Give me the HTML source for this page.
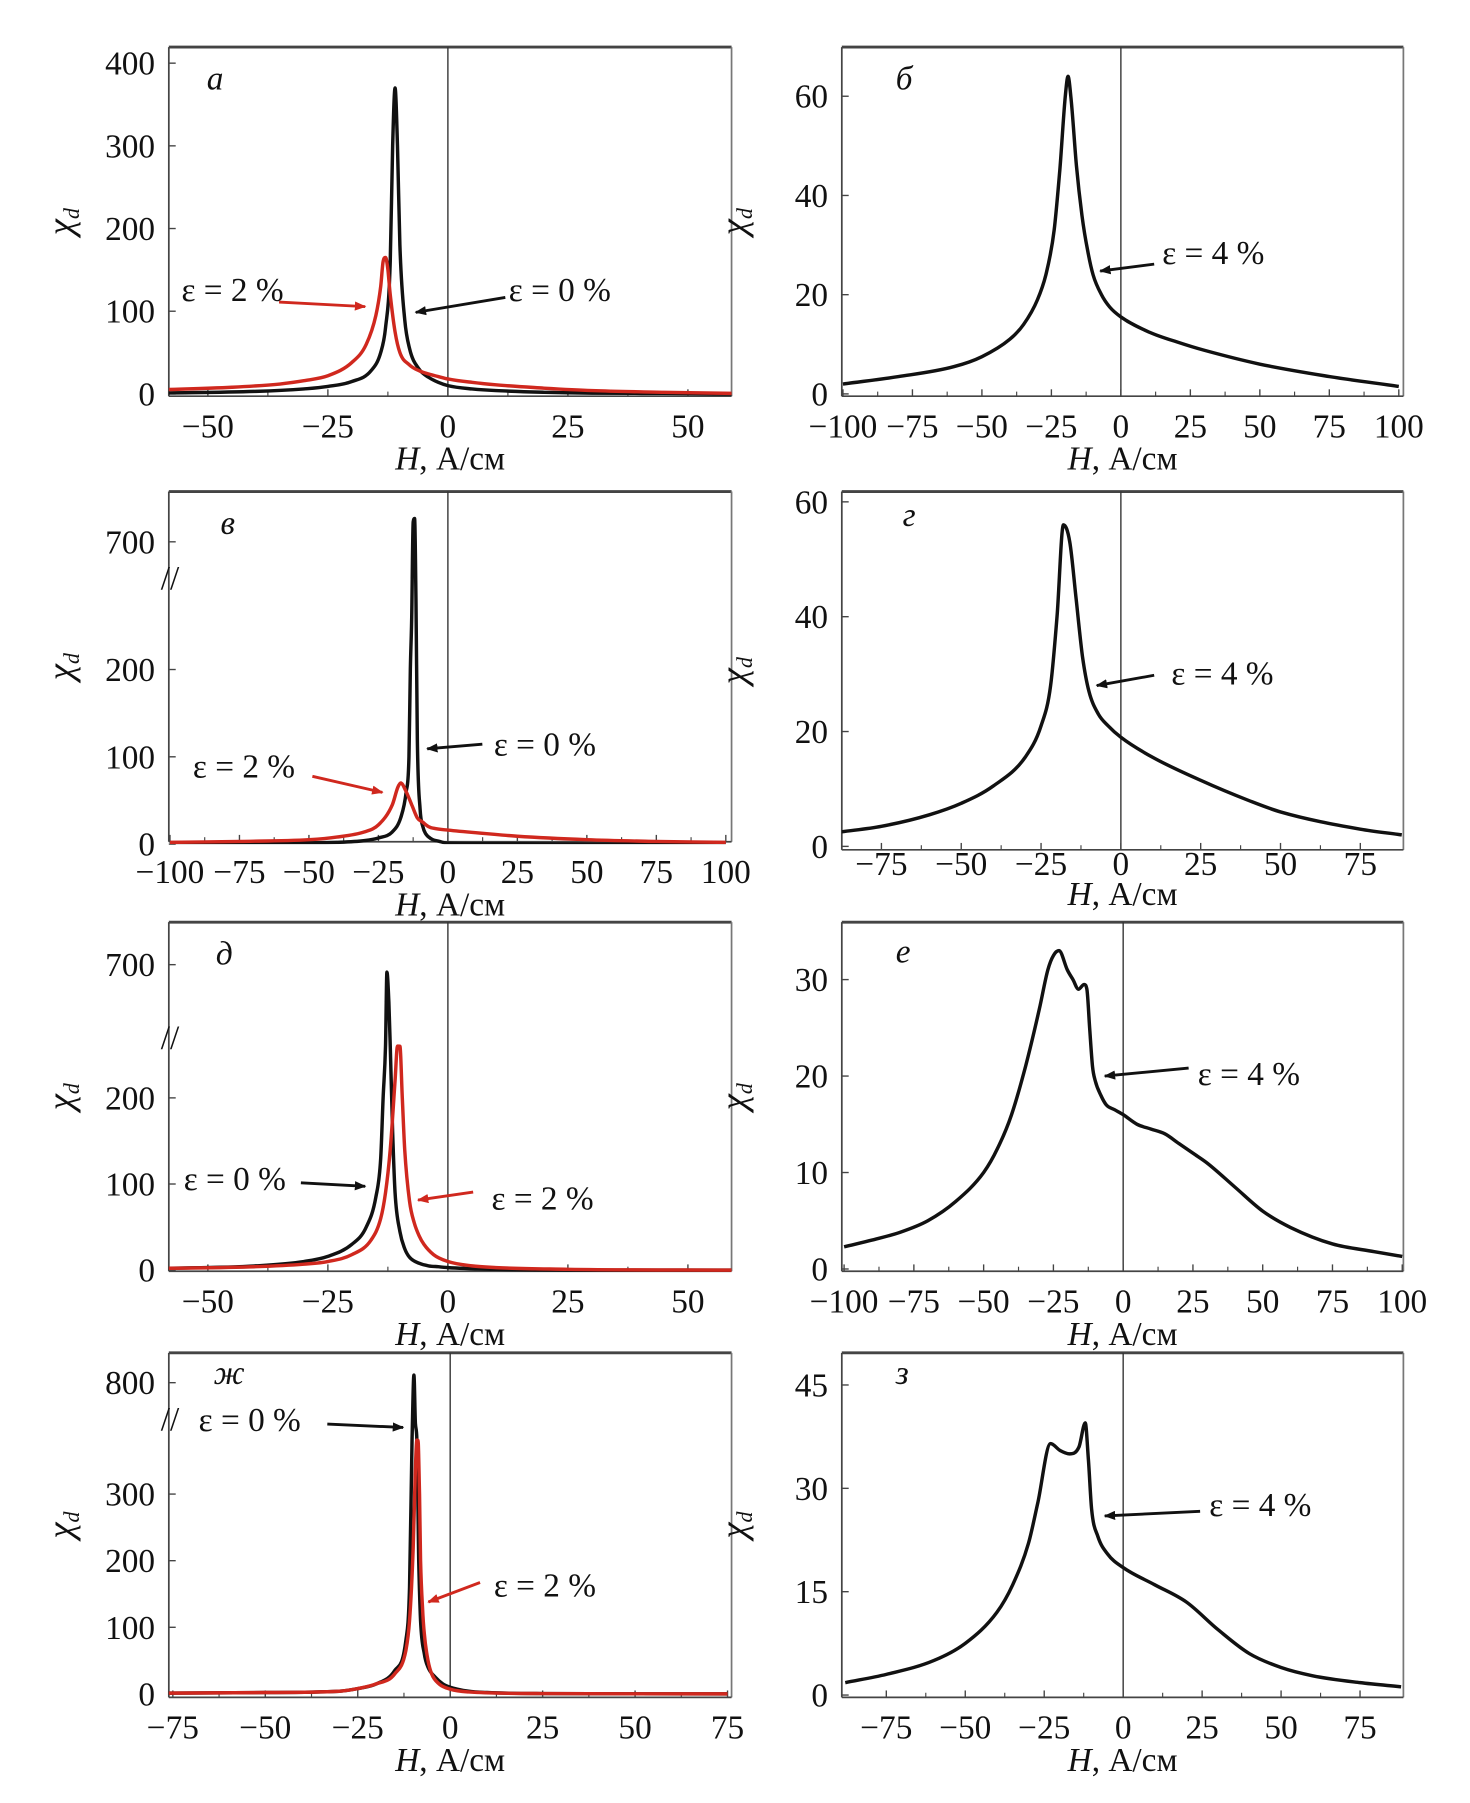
<!DOCTYPE html>
<html><head><meta charset="utf-8">
<style>
html,body{margin:0;padding:0;background:#fff;}
svg{display:block;}
text{font-family:"Liberation Serif",serif;fill:#111;}
.tick{font-size:29px;}
.lab{font-size:29px;}
.ann{font-size:29px;}
</style></head>
<body>
<svg id="fig" width="1470" height="1803" viewBox="0 0 1280 1570" preserveAspectRatio="none" xmlns="http://www.w3.org/2000/svg">
<defs>
<marker id="ahK" markerWidth="10" markerHeight="8" refX="9" refY="4" orient="auto" markerUnits="userSpaceOnUse"><path d="M0,0 L10,4 L0,8 Z" fill="#111"/></marker>
<marker id="ahR" markerWidth="10" markerHeight="8" refX="9" refY="4" orient="auto" markerUnits="userSpaceOnUse"><path d="M0,0 L10,4 L0,8 Z" fill="#d0281e"/></marker>
</defs>
</svg>
<script>
// ---- data ----
const aH0=[-60,-40,-30,-25,-20,-16,-14,-13,-12,-11.5,-11,-10.5,-10,-9,-8,-6,-4,-2,0,5,10,20,30,45,60];
const aX0=[1,3,6,9,15,28,50,80,160,300,370,300,180,90,55,30,20,14,10,6,4,2,1,0.5,0];
const aH2=[-60,-45,-35,-30,-25,-20,-17,-15,-14,-13.5,-13,-12.5,-12,-11,-10,-8,-6,-4,-2,0,5,10,20,30,45,60];
const aX2=[5,8,12,16,22,38,60,95,130,160,165,150,120,75,50,35,28,24,21,18,14,11,7,4,2,0.5];
const bH=[-100,-80,-60,-50,-40,-35,-30,-27,-24,-22,-20,-19,-18,-16,-14,-12,-10,-7,-4,0,10,20,30,50,75,100];
const bX=[2,3.5,5.5,7.5,11,14,19,24,33,45,60,64,60,46,36,29,24,20,17.5,15.5,12.5,10.5,8.8,6,3.5,1.5];
const vH0=[-100,-60,-40,-30,-25,-20,-17,-15,-14,-13.5,-13,-12.5,-12,-11.5,-11,-10,-9,-8,-6,-3,0,20,50,100];
const vX0=[0,1,2,4,7,14,30,60,100,200,260,760,770,280,120,40,20,12,6,3,1,0.5,0,0];
const vH2=[-100,-75,-50,-40,-30,-25,-20,-18,-17,-15,-13,-11,-9,-7,-5,0,10,25,50,75,100];
const vX2=[2,3,5,8,14,22,45,65,70,60,45,30,25,20,18,16,13,9,5,3,2];
const gH=[-88,-75,-60,-50,-40,-30,-25,-22,-20,-18,-16,-14,-12,-10,-7,-4,0,10,25,40,50,75,88];
const gX=[2.5,3.5,5.5,7.5,10.5,15.5,21,28,40,56,53,43,33,27,23,21,19,15.5,11.5,8,6,3,2];
const dH0=[-60,-40,-30,-25,-20,-17,-15,-14,-13.5,-13,-12.7,-12.3,-12,-11.5,-11,-10,-9,-8,-6,-4,-2,0,10,30,60];
const dX0=[2,5,10,16,30,50,85,130,200,290,690,650,290,160,90,45,25,15,8,5,4,3,1,0,0];
const dH2=[-60,-40,-30,-25,-20,-16,-14,-13,-12,-11,-10.5,-10,-9.5,-9,-8,-7,-6,-5,-3,0,5,10,25,60];
const dX2=[2,4,7,10,18,35,60,90,140,220,265,260,200,140,80,55,40,30,18,10,5,3,1,0];
const eH=[-100,-90,-80,-70,-60,-50,-45,-40,-35,-30,-27,-25,-23,-20,-18,-16,-14,-13,-12,-11,-10,-8,-6,-3,0,5,10,15,20,25,30,40,50,60,75,90,100];
const eX=[2.3,3,3.8,5,7,10,12.5,16,21,27,31,32.5,33,31,30,29,29.5,29,25,21,19.5,18,17,16.5,16,15,14.5,14,13,12,11,8.5,6,4.3,2.6,1.8,1.3];
const zhH0=[-80,-50,-30,-25,-20,-15,-12,-11,-10.3,-9.8,-9.4,-9,-8.5,-8,-7,-6,-4,-2,0,5,10,25,75];
const zhX0=[1,2,4,8,15,35,80,160,420,810,700,400,200,110,60,40,25,15,10,4,2,0.5,0];
const zhH2=[-80,-50,-30,-25,-20,-15,-12,-11,-10,-9.5,-9,-8.7,-8.3,-8,-7.5,-7,-6,-5,-3,0,5,25,75];
const zhX2=[1,2,4,8,15,30,65,110,220,320,400,395,300,200,130,90,50,30,15,7,3,0.5,0];
const zH=[-88,-75,-60,-50,-40,-35,-30,-27,-23,-20,-17,-14,-12,-11,-10,-8,-5,0,10,20,30,40,50,60,75,88];
const zX=[1.8,3,5,7.5,12,16,22,28,36.5,35.5,35,36,39.5,34,27,23,20.5,18.5,16,13.5,9.5,6,4,2.8,1.8,1.2];

const aXt=[-50,-25,0,25,50], aYt=[0,100,200,300,400];
const bXt=[-100,-75,-50,-25,0,25,50,75,100], bYt=[0,20,40,60];
const vXt=[-100,-75,-50,-25,0,25,50,75,100], vYt=[0,100,200,700];
const gXt=[-75,-50,-25,0,25,50,75], gYt=[0,20,40,60];
const dXt=[-50,-25,0,25,50], dYt=[0,100,200,700];
const eXt=[-100,-75,-50,-25,0,25,50,75,100], eYt=[0,10,20,30];
const zhXt=[-75,-50,-25,0,25,50,75], zhYt=[0,100,200,300,800];
const zXt=[-75,-50,-25,0,25,50,75], zYt=[0,15,30,45];

const NS="http://www.w3.org/2000/svg";
const svg=document.getElementById('fig');
const defs=svg.querySelector('defs');
function mk(tag,attrs,parent){const e=document.createElementNS(NS,tag);for(const k in attrs)e.setAttribute(k,attrs[k]);(parent||svg).appendChild(e);return e;}

function monoPath(P){
  const n=P.length; if(n<2) return '';
  const d=[],m=new Array(n);
  for(let i=0;i<n-1;i++){const dx=P[i+1][0]-P[i][0];d.push(dx===0?0:(P[i+1][1]-P[i][1])/dx);}
  m[0]=d[0];m[n-1]=d[n-2];
  for(let i=1;i<n-1;i++){m[i]=(d[i-1]*d[i]<=0)?0:(d[i-1]+d[i])/2;}
  for(let i=0;i<n-1;i++){if(d[i]===0){m[i]=0;m[i+1]=0;continue;}
    const a=m[i]/d[i],b=m[i+1]/d[i],s=a*a+b*b;if(s>9){const t=3/Math.sqrt(s);m[i]=t*a*d[i];m[i+1]=t*b*d[i];}}
  let s='M'+P[0][0].toFixed(1)+','+P[0][1].toFixed(1);
  for(let i=0;i<n-1;i++){const dx=(P[i+1][0]-P[i][0])/3;
    s+=' C'+(P[i][0]+dx).toFixed(1)+','+(P[i][1]+m[i]*dx).toFixed(1)+' '+(P[i+1][0]-dx).toFixed(1)+','+(P[i+1][1]-m[i+1]*dx).toFixed(1)+' '+P[i+1][0].toFixed(1)+','+P[i+1][1].toFixed(1);}
  return s;
}

let pid=0;
function panel(p){
  const g=mk('g',{});
  
  
  const xs=v=>p.x0+(v-p.h0)*p.kx;
  const ys=p.ymap;
  const tOff=p.tOff||36, lOff=p.lOff||64;
  const cid='clip'+(pid++);
  const cp=mk('clipPath',{id:cid},defs);
  mk('rect',{x:p.L,y:p.T,width:p.R-p.L,height:p.B-p.T+2},cp);
  mk('line',{x1:p.L,x2:p.R,y1:p.T,y2:p.T,stroke:'#444','stroke-width':2.5},g);
  mk('line',{x1:p.R,x2:p.R,y1:p.T,y2:p.B,stroke:'#777','stroke-width':1.5},g);
  mk('line',{x1:p.L,x2:p.L,y1:p.T,y2:p.B,stroke:'#444','stroke-width':1.5},g);
  mk('line',{x1:p.L,x2:p.R,y1:p.B,y2:p.B,stroke:'#444','stroke-width':1.5},g);
  const zl=mk('line',{x1:xs(0),x2:xs(0),y1:p.T,y2:p.B,stroke:'#333','stroke-width':1.2},g);
  
  
  p.xt.forEach((t,i)=>{
    const x=xs(t);
    mk('line',{x1:x,x2:x,y1:p.B,y2:p.B-6,stroke:'#444','stroke-width':1.2},g);
    if(i<p.xt.length-1){const xm=xs(t+(p.xt[1]-p.xt[0])/2);mk('line',{x1:xm,x2:xm,y1:p.B,y2:p.B-4,stroke:'#444','stroke-width':1},g);}
    const tx=mk('text',{x:x,y:p.B+tOff,'text-anchor':'middle',class:'tick'},g);
    tx.textContent=(t<0?'\u2212'+(-t):String(t));
    
    
  });
  p.yt.forEach(t=>{
    const y=ys(t);
    mk('line',{x1:p.L,x2:p.L+6,y1:y,y2:y,stroke:'#444','stroke-width':1.2},g);
    const ty=mk('text',{x:p.L-12,y:y+10,'text-anchor':'end',class:'tick'},g);
    ty.textContent=String(t);
    
    
  });
  if(p.brk){
    const bt=mk('text',{x:p.L-7,y:p.brk+8,class:'tick','font-size':'18'},g);
    bt.textContent='//';
    
    
  }
  const xl=mk('text',{x:(p.L+p.R)/2,y:p.B+lOff,'text-anchor':'middle',class:'lab'},g);
  xl.innerHTML='<tspan font-style="italic">H</tspan>, А/см';
  
  
  const yc=(p.T+p.B)/2, yx=p.L-92;
  const yl=mk('text',{x:yx,y:yc+8,'text-anchor':'middle',class:'lab'},g);
  yl.setAttribute('transform',`rotate(-90 ${yx} ${yc})`);
  yl.innerHTML='<tspan font-style="italic" font-size="32">χ</tspan><tspan font-style="italic" font-size="19" dy="6">d</tspan>';
  
  
  const pl=mk('text',{x:p.lx,y:p.ly,class:'ann','font-style':'italic'},g);
  pl.textContent=p.letter;
  
  
  const sg=mk('g',{'clip-path':'url(#'+cid+')'},g);
  p.series.forEach(s=>{
    const P=s.h.map((h,i)=>[xs(h),Math.max(p.T,ys(s.v[i]))]);
    const pe=mk('path',{d:monoPath(P),fill:'none',stroke:s.c,'stroke-width':3,'stroke-linejoin':'round'},sg);
    
    
  });
  p.ann.forEach(a=>{
    const t=mk('text',{x:a.tx,y:a.ty,class:'ann'},g);
    t.textContent=a.t;
    
    
    const ar=mk('line',{x1:a.x1,y1:a.y1,x2:a.x2,y2:a.y2,stroke:a.c,'stroke-width':2.5,'marker-end':a.c==='#111'?'url(#ahK)':'url(#ahR)'},g);
    
    
  });
}
const K='#111', RD='#d0281e';
function lin(y0,k){return v=>y0-v*k;}
function brk(y0,k,lo,loY,hi,hiY,k2){return v=>v<=lo?y0-v*k:(v<hi?loY-(v-lo)*(loY-hiY)/(hi-lo):hiY-(v-hi)*k2);}

panel({name:'panel-a',L:147,R:637,T:41,B:345,x0:390,h0:0,kx:4.18,ymap:lin(343,0.72),xt:aXt,yt:aYt,letter:'а',lx:180,ly:78,
 series:[{h:aH0,v:aX0,c:K,n:'curve-eps-0'},{h:aH2,v:aX2,c:RD,n:'curve-eps-2'}],
 ann:[{t:'ε = 2 %',tx:158,ty:262,x1:243,y1:263,x2:318,y2:267,c:RD},{t:'ε = 0 %',tx:443,ty:262,x1:440,y1:259,x2:362,y2:272,c:K}]});
panel({name:'panel-b',L:733,R:1222,T:41,B:345,x0:976,h0:0,kx:2.42,ymap:lin(343,4.32),xt:bXt,yt:bYt,letter:'б',lx:780,ly:78,
 series:[{h:bH,v:bX,c:K,n:'curve-eps-4'}],
 ann:[{t:'ε = 4 %',tx:1012,ty:230,x1:1005,y1:230,x2:958,y2:236,c:K}]});
panel({name:'panel-v',L:147,R:637,T:428,B:733,x0:390,h0:0,kx:2.42,ymap:brk(735,0.76,280,522,620,495,0.29),xt:vXt,yt:vYt,brk:505,letter:'в',lx:192,ly:465,
 series:[{h:vH0,v:vX0,c:K,n:'curve-eps-0'},{h:vH2,v:vX2,c:RD,n:'curve-eps-2'}],
 ann:[{t:'ε = 2 %',tx:168,ty:677,x1:272,y1:676,x2:333,y2:690,c:RD},{t:'ε = 0 %',tx:430,ty:658,x1:420,y1:648,x2:372,y2:652,c:K}]});
panel({name:'panel-g',L:733,R:1222,T:428,B:740,x0:976,h0:0,kx:2.78,ymap:lin(737,5),xt:gXt,yt:gYt,tOff:22,lOff:48,letter:'г',lx:786,ly:458,
 series:[{h:gH,v:gX,c:K,n:'curve-eps-4'}],
 ann:[{t:'ε = 4 %',tx:1020,ty:596,x1:1005,y1:588,x2:955,y2:597,c:K}]});
panel({name:'panel-d',L:147,R:637,T:803,B:1107,x0:390,h0:0,kx:4.18,ymap:brk(1106,0.75,260,911,600,905,0.65),xt:dXt,yt:dYt,brk:905,letter:'д',lx:188,ly:840,
 series:[{h:dH0,v:dX0,c:K,n:'curve-eps-0'},{h:dH2,v:dX2,c:RD,n:'curve-eps-2'}],
 ann:[{t:'ε = 0 %',tx:160,ty:1036,x1:262,y1:1030,x2:318,y2:1033,c:K},{t:'ε = 2 %',tx:428,ty:1053,x1:412,y1:1038,x2:364,y2:1045,c:RD}]});
panel({name:'panel-e',L:733,R:1222,T:803,B:1107,x0:978,h0:0,kx:2.43,ymap:lin(1105,8.4),xt:eXt,yt:eYt,letter:'е',lx:780,ly:838,
 series:[{h:eH,v:eX,c:K,n:'curve-eps-4'}],
 ann:[{t:'ε = 4 %',tx:1043,ty:945,x1:1035,y1:930,x2:962,y2:937,c:K}]});
panel({name:'panel-zh',L:147,R:637,T:1178,B:1478,x0:392,h0:0,kx:3.22,ymap:brk(1475,0.58,380,1255,750,1237,0.66),xt:zhXt,yt:zhYt,brk:1237,letter:'ж',lx:186,ly:1205,
 series:[{h:zhH0,v:zhX0,c:K,n:'curve-eps-0'},{h:zhH2,v:zhX2,c:RD,n:'curve-eps-2'}],
 ann:[{t:'ε = 0 %',tx:173,ty:1246,x1:285,y1:1240,x2:351,y2:1243,c:K},{t:'ε = 2 %',tx:430,ty:1390,x1:418,y1:1378,x2:373,y2:1395,c:RD}]});
panel({name:'panel-z',L:733,R:1222,T:1178,B:1478,x0:978,h0:0,kx:2.75,ymap:lin(1476,6),xt:zXt,yt:zYt,letter:'з',lx:780,ly:1205,
 series:[{h:zH,v:zX,c:K,n:'curve-eps-4'}],
 ann:[{t:'ε = 4 %',tx:1053,ty:1320,x1:1045,y1:1316,x2:962,y2:1320,c:K}]});
</script>
</body></html>
